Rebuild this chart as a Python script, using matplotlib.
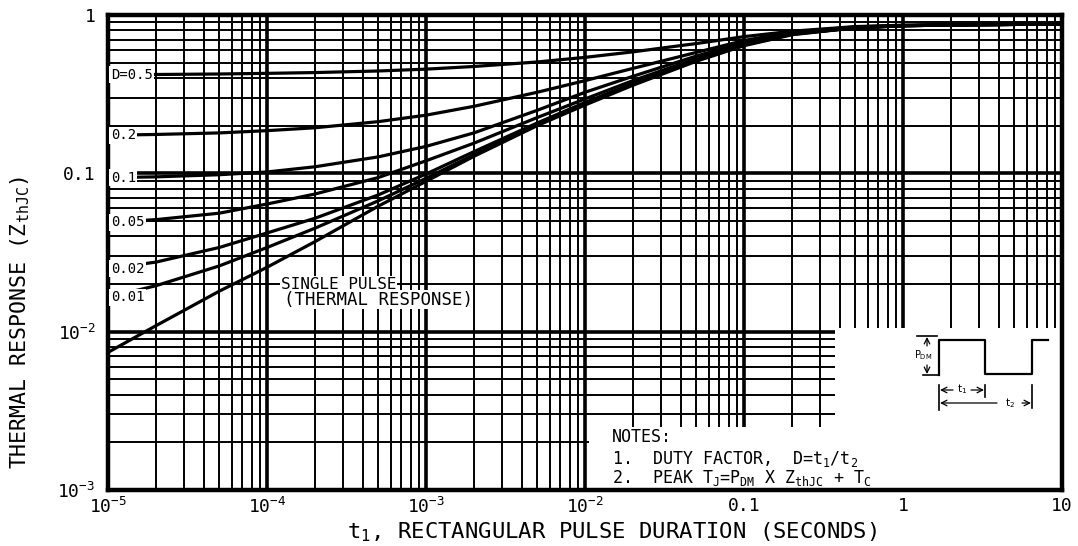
import numpy as np
import matplotlib
matplotlib.use("Agg")
import matplotlib.pyplot as plt
from matplotlib.patches import Rectangle
from matplotlib.ticker import LogLocator, NullFormatter

plt.rcParams['font.family'] = ['DejaVu Sans Mono', 'DejaVu Sans']
plt.rcParams['mathtext.default'] = 'regular'

# pulse duration t1 (seconds)
t_pulse = [1e-5, 2e-5, 5e-5, 1e-4, 2e-4, 5e-4, 1e-3, 2e-3, 5e-3, 1e-2,
           2e-2, 5e-2, 0.1, 0.2, 0.5, 1, 2, 5, 10]

# Z_thJC, one list per duty factor
duty_labels = ['D=0.5', '0.2', '0.1', '0.05', '0.02', '0.01']
z_d050 = [0.42, 0.421, 0.424, 0.428, 0.433, 0.443, 0.455, 0.473, 0.505, 0.54,
          0.585, 0.66, 0.73, 0.79, 0.845, 0.862, 0.868, 0.872, 0.875]
z_d020 = [0.174, 0.176, 0.18, 0.186, 0.194, 0.212, 0.233, 0.265, 0.325, 0.385,
          0.46, 0.58, 0.69, 0.78, 0.84, 0.86, 0.867, 0.872, 0.875]
z_d010 = [0.094, 0.095, 0.098, 0.102, 0.11, 0.127, 0.148, 0.18, 0.25, 0.325,
          0.41, 0.55, 0.67, 0.77, 0.835, 0.857, 0.866, 0.872, 0.875]
z_d005 = [0.049, 0.051, 0.056, 0.064, 0.074, 0.094, 0.12, 0.155, 0.225, 0.295,
          0.385, 0.53, 0.655, 0.76, 0.83, 0.855, 0.865, 0.872, 0.875]
z_d002 = [0.025, 0.0275, 0.034, 0.042, 0.052, 0.073, 0.099, 0.137, 0.208, 0.28,
          0.37, 0.52, 0.65, 0.76, 0.83, 0.855, 0.865, 0.872, 0.875]
z_d001 = [0.0165, 0.0195, 0.026, 0.034, 0.045, 0.067, 0.093, 0.131, 0.203, 0.275,
          0.365, 0.515, 0.645, 0.755, 0.83, 0.855, 0.865, 0.872, 0.875]
z_single = [0.0074, 0.0109, 0.018, 0.0255, 0.037, 0.062, 0.089, 0.128, 0.2, 0.27,
            0.36, 0.51, 0.64, 0.75, 0.83, 0.855, 0.865, 0.872, 0.875]

x_ticks = [1e-5, 1e-4, 1e-3, 1e-2, 0.1, 1, 10]
x_tick_labels = ['10$^{-5}$', '10$^{-4}$', '10$^{-3}$', '10$^{-2}$', '0.1', '1', '10']
y_ticks = [1e-3, 1e-2, 0.1, 1]
y_tick_labels = ['10$^{-3}$', '10$^{-2}$', '0.1', '1']

W, H = 1078, 546
fig = plt.figure(figsize=(W / 100, H / 100), dpi=100)
ax = fig.add_axes([108 / W, 1 - 490 / H, (1062 - 108) / W, (490 - 15) / H])
ax.set_xscale('log')
ax.set_yscale('log')
ax.set_xlim(1e-5, 10)
ax.set_ylim(1e-3, 1)

ax.xaxis.set_minor_locator(LogLocator(base=10, subs=np.arange(2, 10), numticks=20))
ax.yaxis.set_minor_locator(LogLocator(base=10, subs=np.arange(2, 10), numticks=20))
ax.xaxis.set_minor_formatter(NullFormatter())
ax.yaxis.set_minor_formatter(NullFormatter())
ax.set_xticks(x_ticks, x_tick_labels)
ax.set_yticks(y_ticks, y_tick_labels)
ax.tick_params(which='both', length=0, labelsize=13)
ax.tick_params(axis='x', pad=5)
ax.tick_params(axis='y', pad=9)

ax.set_axisbelow(True)
ax.grid(which='major', color='black', lw=2.6)
ax.grid(which='minor', color='black', lw=1.4)
for sp in ax.spines.values():
    sp.set_linewidth(3.2)

# blank areas for notes and waveform sketch
ax.add_patch(Rectangle((0.0106, 1e-3), 10 - 0.0106, 0.0025 - 1e-3, facecolor='white',
                       edgecolor='none', zorder=1))
ax.add_patch(Rectangle((0.373, 1e-3), 10 - 0.373, 0.0106 - 1e-3, facecolor='white',
                       edgecolor='none', zorder=1))

curves = [z_d050, z_d020, z_d010, z_d005, z_d002, z_d001]
for lab, z in zip(duty_labels, curves):
    ax.plot(t_pulse, z, color='black', lw=2.3, zorder=3)
    ax.text(1.04e-5, z[0], lab, fontsize=10, ha='left', va='center', zorder=5,
            bbox=dict(facecolor='white', edgecolor='none', pad=1.0))
ax.plot(t_pulse, z_single, color='black', lw=2.3, zorder=3)

ax.text(1.22e-4, 0.0199, 'SINGLE PULSE', fontsize=11.5, ha='left', va='center', zorder=5,
        bbox=dict(facecolor='white', edgecolor='none', pad=0.3))
ax.text(1.28e-4, 0.0159, '(THERMAL RESPONSE)', fontsize=12.5, ha='left', va='center', zorder=5,
        bbox=dict(facecolor='white', edgecolor='none', pad=0.3))

# notes (inside the plot frame, lower right)
ax.text(0.0148, 0.00215, 'NOTES:', fontsize=12, va='center', zorder=5)
ax.text(0.0148, 0.00158, '1.  DUTY FACTOR,  D=t$_1$/t$_2$', fontsize=12, va='center', zorder=5)
ax.text(0.0148, 0.00119, '2.  PEAK T$_J$=P$_{DM}$ X Z$_{thJC}$ + T$_C$',
        fontsize=12, va='center', zorder=5)

# axis titles
fig.text(612 / W, 1 - 532 / H, 't$_1$, RECTANGULAR PULSE DURATION (SECONDS)',
         fontsize=16, ha='center', va='center')
fig.text(20 / W, 1 - 322 / H, 'THERMAL RESPONSE (Z$_{thJC}$)', fontsize=15.5,
         rotation=90, ha='center', va='center')

# waveform sketch (drawn in pixel units of its own little axes)
sk = fig.add_axes([900 / W, 1 - 420 / H, 160 / W, 95 / H])
sk.set_xlim(900, 1060)
sk.set_ylim(420, 325)
sk.axis('off')
sk.plot([917, 937], [336, 336], color='black', lw=1.2)
sk.plot([923, 938], [375, 375], color='black', lw=1.2)
sk.plot([939, 939, 985, 985, 1032, 1032, 1048], [375, 340, 340, 374, 374, 340, 340],
        color='black', lw=1.6)
sk.annotate('', xy=(927, 337), xytext=(927, 346),
            arrowprops=dict(arrowstyle='->', lw=0.9, shrinkA=0, shrinkB=0))
sk.annotate('', xy=(927, 374), xytext=(927, 365),
            arrowprops=dict(arrowstyle='->', lw=0.9, shrinkA=0, shrinkB=0))
sk.text(923, 355, 'P$_{DM}$', fontsize=7, ha='center', va='center', family='DejaVu Sans')
sk.plot([939, 939], [385, 410], color='black', lw=1.2)
sk.plot([985, 985], [385, 397], color='black', lw=1.2)
sk.plot([1032, 1032], [385, 408], color='black', lw=1.2)
sk.annotate('', xy=(940, 390), xytext=(953, 390),
            arrowprops=dict(arrowstyle='->', lw=0.9, shrinkA=0, shrinkB=0))
sk.annotate('', xy=(984, 390), xytext=(971, 390),
            arrowprops=dict(arrowstyle='->', lw=0.9, shrinkA=0, shrinkB=0))
sk.text(962, 389, 't$_1$', fontsize=7.5, ha='center', va='center', family='DejaVu Sans')
sk.annotate('', xy=(940, 403), xytext=(997, 403),
            arrowprops=dict(arrowstyle='->', lw=0.9, shrinkA=0, shrinkB=0))
sk.annotate('', xy=(1031, 403), xytext=(1022, 403),
            arrowprops=dict(arrowstyle='->', lw=0.9, shrinkA=0, shrinkB=0))
sk.text(1010, 403, 't$_2$', fontsize=7.5, ha='center', va='center', family='DejaVu Sans')

fig.savefig('out.png', dpi=100)
